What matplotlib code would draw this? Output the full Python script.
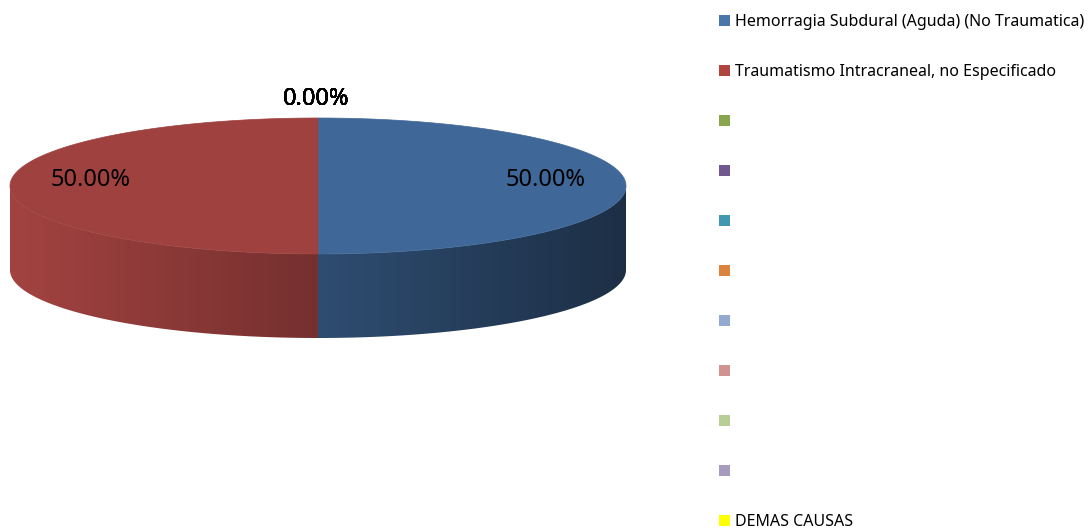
import numpy as np
import matplotlib.pyplot as plt
from matplotlib.patches import Polygon, Patch
from matplotlib.colors import to_rgb

plt.rcParams['font.family'] = ['Noto Sans', 'DejaVu Sans']

# data
categories = ["Hemorragia Subdural (Aguda) (No Traumatica)",
              "Traumatismo Intracraneal, no Especificado",
              "", "", "", "", "", "", "", "",
              "DEMAS CAUSAS"]
values = [1, 1, 0, 0, 0, 0, 0, 0, 0, 0, 0]
top_colors = ["#3F6899", "#9E413F", "#7F9A48", "#664E7F", "#3A8A9E",
              "#C4743A", "#8597BA", "#B98483", "#A6B988", "#978BAA", "#E5E500"]
legend_colors = ["#4A76AC", "#B0453F", "#89A54E", "#71588F", "#4198AF",
                 "#DB843D", "#93A9CF", "#D19392", "#B9CD96", "#A99BBD", "#FFFF00"]

W, H = 1092, 528
fig = plt.figure(figsize=(W / 100, H / 100), dpi=100)
ax = fig.add_axes([0, 0, 1, 1])
ax.set_xlim(0, W)
ax.set_ylim(H, 0)
ax.axis('off')

# pie geometry (pixels)
cx, cy = 318, 186
rx, ry = 308, 68
depth = 84

total = sum(values)
fracs = [v / total for v in values]
pcts = [100 * f for f in fracs]


def pt(t, dy=0):
    r = np.radians(t)
    return cx + rx * np.cos(r), cy - ry * np.sin(r) + dy


def shade(c, cosv):
    # brightness depends on how the side faces the light (left is lit)
    f = 0.74 - 0.29 * cosv
    return np.clip(np.outer(f, to_rgb(c)), 0, 1)


start = 90.0
wedges = []
for v, f, c in zip(values, fracs, top_colors):
    end = start - 360 * f
    wedges.append((end, start, c, f))
    start = end

# sides (front half only: angles between -180 and 0)
for t0, t1, c, f in wedges:
    if f == 0:
        continue
    for k in range(-2, 2):
        lo = max(t0, -180 + 360 * k)
        hi = min(t1, 0 + 360 * k)
        if hi <= lo:
            continue
        ts = np.linspace(lo, hi, 300)
        verts = [pt(t) for t in ts] + [pt(t, depth) for t in ts[::-1]]
        poly = Polygon(verts, closed=True, facecolor='none', edgecolor='none')
        ax.add_patch(poly)
        xs = [p[0] for p in verts]
        x0, x1 = min(xs), max(xs)
        xx = np.linspace(x0, x1, 400)
        img = shade(c, (xx - cx) / rx)[None, :, :]
        im = ax.imshow(img, extent=(x0, x1, cy + ry + depth + 2, cy - ry - 2),
                       aspect='auto', interpolation='bilinear', zorder=1)
        im.set_clip_path(poly)

# top faces
for t0, t1, c, f in wedges:
    if f == 0:
        continue
    ts = np.linspace(t1, t0, 300)
    verts = [(cx, cy)] + [pt(t) for t in ts]
    ax.add_patch(Polygon(verts, closed=True, facecolor=c, edgecolor=c,
                         lw=0.5, zorder=2))

# reset limits after imshow
ax.set_xlim(0, W)
ax.set_ylim(H, 0)

# labels
for (t0, t1, c, f), p in zip(wedges, pcts):
    mid = (t0 + t1) / 2
    if f > 0:
        x, y = pt(mid)
        x = cx + 0.74 * (x - cx)
        y = cy + 0.74 * (y - cy) - 6
        ax.text(x, y, f"{p:.2f}%", fontsize=17, ha='center', va='center',
                color='black', zorder=3)
    else:
        x = cx + 1.28 * rx * np.cos(np.radians(mid))
        y = cy - 1.28 * ry * np.sin(np.radians(mid))
        ax.text(x - 2, y, f"{p:.2f}%", fontsize=17, ha='center', va='center',
                color='black', fontweight='bold', zorder=3)

# legend
handles = [Patch(facecolor=c, edgecolor='none') for c in legend_colors]
fig.legend(handles, categories, loc='upper left',
           bbox_to_anchor=(719 / W, 1 - 14 / H), frameon=False,
           fontsize=11.5, handlelength=0.7, handleheight=0.7,
           handletextpad=0.3, labelspacing=2.13, borderpad=0,
           borderaxespad=0)

fig.savefig("out.png", dpi=100)
